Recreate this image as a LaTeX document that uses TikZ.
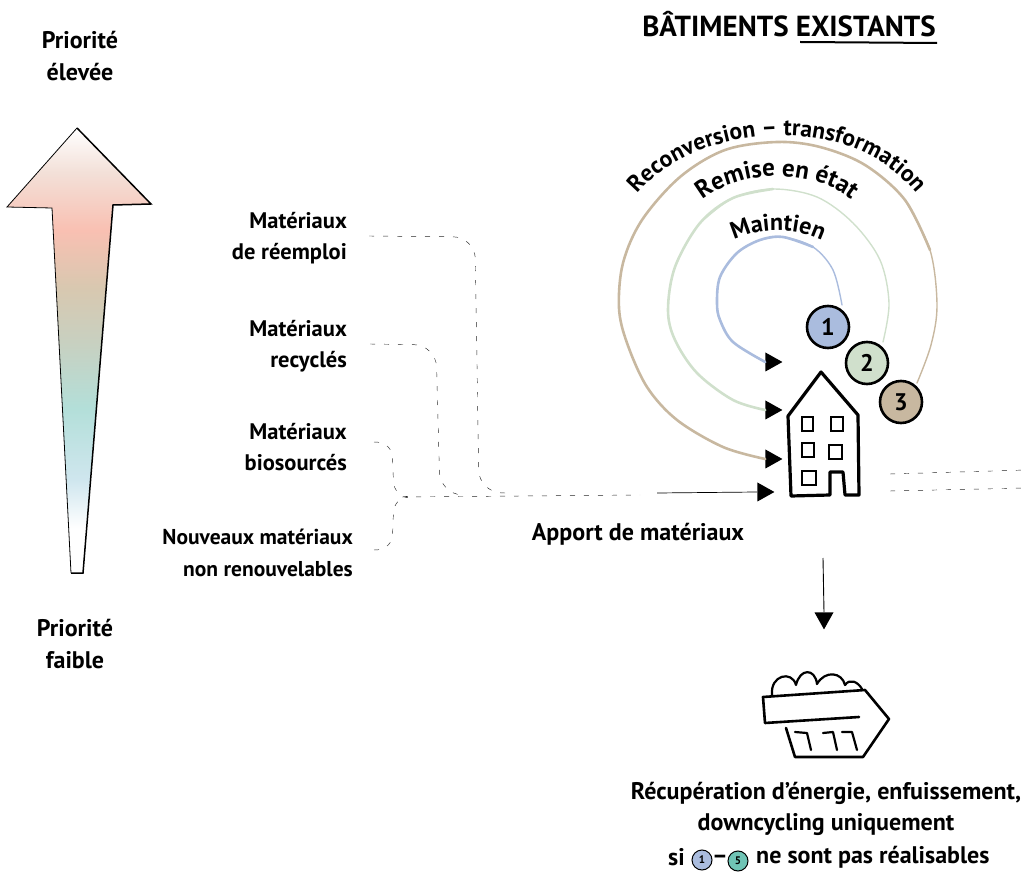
\documentclass[tikz,border=0pt]{standalone}
\usepackage{fontspec}
\setmainfont{PT Sans}
\usetikzlibrary{decorations.text,shapes.geometric,calc}
\definecolor{g1}{RGB}{207,230,238}
\definecolor{g2}{RGB}{179,223,217}
\definecolor{g3}{RGB}{200,208,192}
\definecolor{g4}{RGB}{216,200,176}
\definecolor{g5}{RGB}{249,192,178}
\definecolor{g6}{RGB}{243,224,216}
\pgfdeclareverticalshading{prio}{100bp}{
 color(0bp)=(white);
 color(25bp)=(white);
 color(30bp)=(white);
 color(35.5bp)=(g1);
 color(43.5bp)=(g2);
 color(51bp)=(g3);
 color(57bp)=(g4);
 color(63.5bp)=(g5);
 color(70bp)=(g6);
 color(75bp)=(white);
 color(100bp)=(white)}
\definecolor{cblue}{HTML}{AABCDE}
\definecolor{cgreen}{HTML}{D0E0CC}
\definecolor{ctan}{HTML}{C8B8A0}
\definecolor{cteal}{HTML}{6FC4B5}
\tikzset{
 x=1pt,y=-1pt,
 lab/.style={font=\fontsize{24}{31.5}\selectfont\bfseries,inner sep=0pt,align=center},
 labr/.style={font=\fontsize{22.5}{31.5}\selectfont\bfseries,inner sep=0pt,align=right,anchor=east},
 num/.style={circle,draw=black,line width=2.6pt,minimum size=42pt,inner sep=0pt,font=\fontsize{24}{24}\selectfont\bfseries},
 mini/.style={circle,draw=black,line width=1pt,minimum size=20pt,inner sep=0pt,font=\fontsize{11}{11}\selectfont\bfseries},
 tip/.style={isosceles triangle,isosceles triangle apex angle=60,isosceles triangle stretches,fill=black,inner sep=0pt,minimum height=17pt,minimum width=19pt},
 dsh/.style={draw=black!85,line width=0.45pt,dash pattern=on 5pt off 9pt,rounded corners=22pt},
 thinsp/.style={line width=1.4pt,line cap=round,smooth,tension=0.55},
 thicksp/.style={line width=2.6pt,line cap=round,smooth,tension=0.55},
 bld/.style={line width=3.2pt,line join=round,line cap=round},
 curved/.style={decorate,decoration={text along path,text align=center,raise=0pt,text={#1}}}
}
\begin{document}
\begin{tikzpicture}
\useasboundingbox (0,0) rectangle (1026,874);
% priority arrow
\path[shading=prio] (77,128)--(151,204)--(113,205)--(83,573)--(71,573)--(52,208)--(7,207)--cycle;
\draw[line width=0.8pt,line join=miter] (71,573)--(52,208)--(7,207)--(77,128);
\draw[line width=1.5pt,line join=miter] (77,128)--(151,204)--(113,205)--(83,573)--(71,573);
\node[lab] (prioh) at (80,56) {Priorité\\élevée};
\node[lab] (priob) at (75,644) {Priorité\\faible};
% material labels
\node[labr] (m1) at (347,238) {Matériaux\\de réemploi};
\node[labr] (m2) at (347,346) {Matériaux\\recyclés};
\node[labr] (m3) at (347,447) {Matériaux\\biosourcés};
\node[labr,font=\fontsize{21.5}{31.5}\selectfont\bfseries] (m4) at (353,553) {Nouveaux matériaux\\non renouvelables};
\coordinate (d1) at (369,236);
\coordinate (d2) at (370,344);
\coordinate (d3) at (374,442);
\coordinate (d4) at (374,550);
\coordinate (j) at (402,497);
\node[tip] (t4) at (763,492) {};
\coordinate (solid) at (657,493);
\draw[dsh] (d1)--(475,237)--(479,492)--(505,493);
\draw[dsh] (d2)--(436,345)--(440,494)--(462,495);
\draw[dsh,rounded corners=14pt] (d3)--(392,443)--(394,496)--(j);
\draw[dsh,rounded corners=14pt] (d4)--(392,549)--(394,498)--(j);
\draw[dsh,rounded corners=0pt] (j)--(640,495);
\draw[line width=0.7pt] (solid)--(t4.west);
\node[lab] (apport) at (638,534) {Apport de matériaux};
% title
\node[lab,font=\fontsize{29}{29}\selectfont\bfseries] (titre) at (789,24) {BÂTIMENTS EXISTANTS};
\coordinate (ul1) at (800,42); \coordinate (ul2) at (937,43);
\draw[line width=2pt] (ul1)--(ul2);
% numbered circles
\node[tip] (t1) at (771,362) {};
\node[tip] (t2) at (771,410) {};
\node[tip] (t3) at (771,459) {};
% spirals
\draw[ctan,thinsp] plot coordinates {(917,383) (931,345) (937,305) (930,250) (905,200)};
\draw[ctan,thicksp] plot coordinates {(930,250) (905,200) (865,165) (820,147) (777,142) (725,150) (680,177) (642,220) (623,263) (619,308) (627,343) (647,387) (677,420) (723,447) (t3.west)};
\draw[cgreen,thinsp] plot coordinates {(883,342) (889,303) (880,260) (853,223) (817,197) (773,189) (733,198) (700,223)};
\draw[cgreen,thicksp] plot coordinates {(773,189) (733,198) (700,223) (675,267) (668,310) (675,340) (697,373) (733,400) (t2.west)};
\draw[cblue,thinsp] plot coordinates {(842,305) (833,270) (813,247) (783,237) (760,240)};
\draw[cblue,thicksp] plot coordinates {(813,247) (783,237) (760,240) (737,253) (720,277) (717,303) (720,320) (733,342) (t1.west)};
\node[num,fill=cblue] (n1) at (828,327) {1};
\node[num,fill=cgreen] (n2) at (867,363) {2};
\node[num,fill=ctan] (n3) at (901,402) {3};
% curved labels
\path[curved={|\fontsize{23.5}{23.5}\selectfont\bfseries|Reconversion – transformation}] (628,206) .. controls (680,122) and (860,102) .. (925,206);
\path[curved={|\fontsize{25}{25}\selectfont\bfseries|Remise en état}] (692,210) .. controls (730,165) and (825,165) .. (862,210);
\path[curved={|\fontsize{24}{24}\selectfont\bfseries|Maintien}] (726,245) .. controls (755,226) and (800,226) .. (830,245);
% house
\draw[bld,miter limit=3] (830,495)--(791,496)--(788,416)--(821,372)--(858,415)--(859,495)--(845,495)--(843,472)--(830,472)--cycle;
\draw[line width=2.6pt] (802,417) rectangle (813,431);
\draw[line width=2.6pt] (831,417) rectangle (843,431);
\draw[line width=2.6pt] (802,443) rectangle (814,457);
\draw[line width=2.6pt] (829,445) rectangle (842,459);
\draw[line width=2.6pt] (802,471) rectangle (816,485);
% outgoing dashes
\coordinate (o1) at (890,474); \coordinate (o2) at (1026,470);
\coordinate (o3) at (890,491); \coordinate (o4) at (1026,488);
\draw[dsh,rounded corners=0pt] (o1)--(o2);
\draw[dsh,rounded corners=0pt] (o3)--(o4);
% down arrow
\node[tip,shape border rotate=-90] (t5) at (824,618) {};
\coordinate (top) at (823,558);
\draw[line width=0.9pt] (top)--(t5.north);
% skip
\draw[bld,line width=2.6pt] (859,717)--(765,723)--(763,697)--(865,690)--(889,719)--(863,757)--(795,757)--(786,728);
\draw[bld,line width=2.2pt] (795,732)--(807,733)--(811,750);
\draw[bld,line width=2.2pt] (823,733)--(833,732)--(837,750);
\draw[bld,line width=2.2pt] (842,732)--(852,732)--(857,750);
\draw[bld,line width=2.2pt] (772,695) .. controls (770,675) and (792,670) .. (796,685)
 .. controls (800,668) and (815,668) .. (817,684)
 .. controls (825,670) and (842,672) .. (845,685)
 .. controls (850,678) and (858,682) .. (862,689);
% bottom text
\node[lab] (b1) at (826,809) {Récupération d’énergie, enfuissement,\\downcycling uniquement};
\node[lab,anchor=east] (si) at (685,857) {si};
\node[mini,fill=cblue] (c1) at (702,860) {1};
\node[mini,fill=cteal] (c5) at (738,861) {5};
\node[lab] (tiret) at (720,859) {–};
\node[lab,anchor=west] (b3) at (756,857) {ne sont pas réalisables};
\end{tikzpicture}
\end{document}
